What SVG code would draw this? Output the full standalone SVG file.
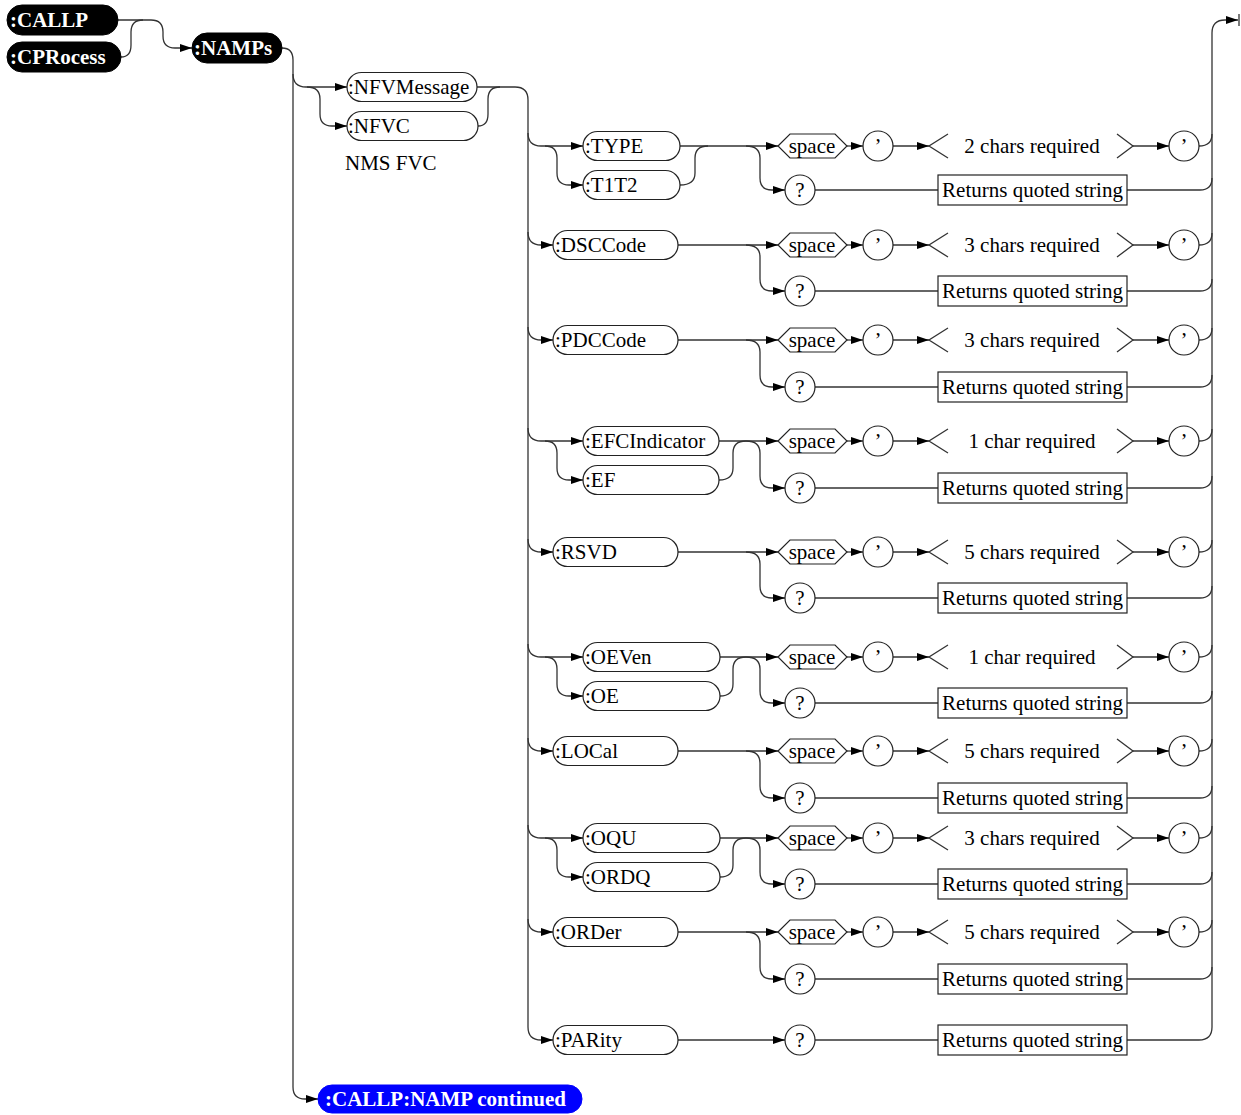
<svg xmlns="http://www.w3.org/2000/svg" width="1241" height="1115" viewBox="0 0 1241 1115">
<defs>
<marker id="ah" viewBox="0 0 12 8" refX="12" refY="4" markerWidth="12" markerHeight="8" markerUnits="userSpaceOnUse" orient="auto"><path d="M0,0 L12,4 L0,8 z" fill="#000"/></marker>
<style>
.ln{fill:none;stroke:#333;stroke-width:1.3}
.ar{marker-end:url(#ah)}
.pill{fill:#fff;stroke:#222;stroke-width:1.2}
.blk{fill:#000;stroke:#000}
.blu{fill:#0000ff;stroke:#0000ff}
.shp{fill:#fff;stroke:#222;stroke-width:1.2}
.t{font-family:"Liberation Serif","Times New Roman",serif;font-size:21px;fill:#000}
.b{font-weight:bold;fill:#fff}
.m{text-anchor:middle}
</style>
</defs>
<rect width="1241" height="1115" fill="#fff"/>

<g id="connectors">
<path class="ln ar" d="M118,20 H151 Q163,20 163,32 V36 Q163,48 175,48 H192"/>
<path class="ln" d="M121,57 Q131,57 131,45 V32 Q131,20 143,20"/>
<path class="ln ar" d="M282,48 Q293,48 293,60 V1087 Q293,1099 305,1099 H318"/>
<path class="ln ar" d="M293,74 Q293,87 306,87 H347"/>
<path class="ln ar" d="M307,87 Q320,87 320,99 V114 Q320,126 332,126 H347"/>
<path class="ln ar" d="M477,87 H515 Q528,87 528,100 V1027 Q528,1040 541,1040 H553"/>
<path class="ln" d="M478,126 Q488,126 488,114 V99 Q488,87 500,87"/>
<path class="ln ar" d="M1127,1040 H1199 Q1212,1040 1212,1027 V33 Q1212,20 1225,20 H1238"/>
<path class="ln" d="M1239,14 V26" stroke-width="1.5"/>

<!-- row 1 TYPE -->
<path class="ln ar" d="M528,133 Q528,146 541,146 H583"/>
<path class="ln ar" d="M545,146 Q557,146 557,158 V173 Q557,185 569,185 H583"/>
<path class="ln" d="M680,185 Q695,185 695,173 V158 Q695,146 708,146"/>
<path class="ln ar" d="M680,146 H778"/>
<path class="ln ar" d="M746,146 Q760,146 760,158 V178 Q760,190 772,190 H785"/>
<!-- row 2 DSCCode -->
<path class="ln ar" d="M528,232 Q528,245 541,245 H553"/>
<path class="ln ar" d="M678,245 H778"/>
<path class="ln ar" d="M746,245 Q760,245 760,257 V279 Q760,291 772,291 H785"/>
<!-- row 3 PDCCode -->
<path class="ln ar" d="M528,327 Q528,340 541,340 H553"/>
<path class="ln ar" d="M678,340 H778"/>
<path class="ln ar" d="M746,340 Q760,340 760,352 V375 Q760,387 772,387 H785"/>
<!-- row 4 EFCIndicator -->
<path class="ln ar" d="M528,428 Q528,441 541,441 H583"/>
<path class="ln ar" d="M545,441 Q557,441 557,453 V468 Q557,480 569,480 H583"/>
<path class="ln" d="M719,480 Q733,480 733,468 V453 Q733,441 746,441"/>
<path class="ln ar" d="M719,441 H778"/>
<path class="ln ar" d="M746,441 Q760,441 760,453 V476 Q760,488 772,488 H785"/>
<!-- row 5 RSVD -->
<path class="ln ar" d="M528,539 Q528,552 541,552 H553"/>
<path class="ln ar" d="M678,552 H778"/>
<path class="ln ar" d="M746,552 Q760,552 760,564 V586 Q760,598 772,598 H785"/>
<!-- row 6 OEVen -->
<path class="ln ar" d="M528,644 Q528,657 541,657 H583"/>
<path class="ln ar" d="M545,657 Q557,657 557,669 V684 Q557,696 569,696 H583"/>
<path class="ln" d="M720,696 Q733,696 733,684 V669 Q733,657 746,657"/>
<path class="ln ar" d="M720,657 H778"/>
<path class="ln ar" d="M746,657 Q760,657 760,669 V691 Q760,703 772,703 H785"/>
<!-- row 7 LOCal -->
<path class="ln ar" d="M528,738 Q528,751 541,751 H553"/>
<path class="ln ar" d="M678,751 H778"/>
<path class="ln ar" d="M746,751 Q760,751 760,763 V786 Q760,798 772,798 H785"/>
<!-- row 8 OQU -->
<path class="ln ar" d="M528,825 Q528,838 541,838 H583"/>
<path class="ln ar" d="M545,838 Q557,838 557,850 V865 Q557,877 569,877 H583"/>
<path class="ln" d="M720,877 Q733,877 733,865 V850 Q733,838 746,838"/>
<path class="ln ar" d="M720,838 H778"/>
<path class="ln ar" d="M746,838 Q760,838 760,850 V872 Q760,884 772,884 H785"/>
<!-- row 9 ORDer -->
<path class="ln ar" d="M528,919 Q528,932 541,932 H553"/>
<path class="ln ar" d="M678,932 H778"/>
<path class="ln ar" d="M746,932 Q760,932 760,944 V967 Q760,979 772,979 H785"/>
<!-- row 10 PARity -->
<path class="ln ar" d="M678,1040 H785"/>
<path class="ln" d="M815,1040 H938"/>

<!-- value chains per row -->
<g id="chains">
<path class="ln ar" d="M847,146 H863"/><path class="ln ar" d="M893,146 H929"/><path class="ln ar" d="M1133,146 H1169"/>
<path class="ln" d="M1199,146 C1207,146 1212,142 1212,134"/><path class="ln" d="M815,190 H938"/><path class="ln" d="M1127,190 H1200 C1208,190 1212,186 1212,178"/>
<path class="ln ar" d="M847,245 H863"/><path class="ln ar" d="M893,245 H929"/><path class="ln ar" d="M1133,245 H1169"/>
<path class="ln" d="M1199,245 C1207,245 1212,241 1212,233"/><path class="ln" d="M815,291 H938"/><path class="ln" d="M1127,291 H1200 C1208,291 1212,287 1212,279"/>
<path class="ln ar" d="M847,340 H863"/><path class="ln ar" d="M893,340 H929"/><path class="ln ar" d="M1133,340 H1169"/>
<path class="ln" d="M1199,340 C1207,340 1212,336 1212,328"/><path class="ln" d="M815,387 H938"/><path class="ln" d="M1127,387 H1200 C1208,387 1212,383 1212,375"/>
<path class="ln ar" d="M847,441 H863"/><path class="ln ar" d="M893,441 H929"/><path class="ln ar" d="M1133,441 H1169"/>
<path class="ln" d="M1199,441 C1207,441 1212,437 1212,429"/><path class="ln" d="M815,488 H938"/><path class="ln" d="M1127,488 H1200 C1208,488 1212,484 1212,476"/>
<path class="ln ar" d="M847,552 H863"/><path class="ln ar" d="M893,552 H929"/><path class="ln ar" d="M1133,552 H1169"/>
<path class="ln" d="M1199,552 C1207,552 1212,548 1212,540"/><path class="ln" d="M815,598 H938"/><path class="ln" d="M1127,598 H1200 C1208,598 1212,594 1212,586"/>
<path class="ln ar" d="M847,657 H863"/><path class="ln ar" d="M893,657 H929"/><path class="ln ar" d="M1133,657 H1169"/>
<path class="ln" d="M1199,657 C1207,657 1212,653 1212,645"/><path class="ln" d="M815,703 H938"/><path class="ln" d="M1127,703 H1200 C1208,703 1212,699 1212,691"/>
<path class="ln ar" d="M847,751 H863"/><path class="ln ar" d="M893,751 H929"/><path class="ln ar" d="M1133,751 H1169"/>
<path class="ln" d="M1199,751 C1207,751 1212,747 1212,739"/><path class="ln" d="M815,798 H938"/><path class="ln" d="M1127,798 H1200 C1208,798 1212,794 1212,786"/>
<path class="ln ar" d="M847,838 H863"/><path class="ln ar" d="M893,838 H929"/><path class="ln ar" d="M1133,838 H1169"/>
<path class="ln" d="M1199,838 C1207,838 1212,834 1212,826"/><path class="ln" d="M815,884 H938"/><path class="ln" d="M1127,884 H1200 C1208,884 1212,880 1212,872"/>
<path class="ln ar" d="M847,932 H863"/><path class="ln ar" d="M893,932 H929"/><path class="ln ar" d="M1133,932 H1169"/>
<path class="ln" d="M1199,932 C1207,932 1212,928 1212,920"/><path class="ln" d="M815,979 H938"/><path class="ln" d="M1127,979 H1200 C1208,979 1212,975 1212,967"/>
</g>
</g>

<g id="n-callp"><rect class="blk" x="7" y="5" width="111" height="30" rx="15"/><text class="t b" x="10" y="27">:CALLP</text></g>
<g id="n-cprocess"><rect class="blk" x="7" y="42" width="114" height="30" rx="15"/><text class="t b" x="10" y="64">:CPRocess</text></g>
<g id="n-namps"><rect class="blk" x="192" y="33" width="90" height="30" rx="15"/><text class="t b" x="194" y="55">:NAMPs</text></g>
<g id="n-continued"><rect class="blu" x="318" y="1085" width="264" height="28" rx="14"/><text class="t b" x="325" y="1106">:CALLP:NAMP continued</text></g>

<g id="n-nfvmessage"><rect class="pill" x="347" y="72.5" width="130" height="29" rx="14.5"/><text class="t" x="348" y="94">:NFVMessage</text></g>
<g id="n-nfvc"><rect class="pill" x="347" y="111.5" width="131" height="29" rx="14.5"/><text class="t" x="348" y="133">:NFVC</text></g>
<g id="n-nmsfvc"><text class="t" x="345" y="170">NMS FVC</text></g>

<g id="n-type"><rect class="pill" x="583" y="131.5" width="97" height="29" rx="14.5"/><text class="t" x="585" y="153">:TYPE</text></g>
<g id="n-t1t2"><rect class="pill" x="583" y="170.5" width="97" height="29" rx="14.5"/><text class="t" x="585" y="192">:T1T2</text></g>
<g id="n-dsccode"><rect class="pill" x="553" y="230.5" width="125" height="29" rx="14.5"/><text class="t" x="555" y="252">:DSCCode</text></g>
<g id="n-pdccode"><rect class="pill" x="553" y="325.5" width="125" height="29" rx="14.5"/><text class="t" x="555" y="347">:PDCCode</text></g>
<g id="n-efcindicator"><rect class="pill" x="583" y="426.5" width="136" height="29" rx="14.5"/><text class="t" x="585" y="448">:EFCIndicator</text></g>
<g id="n-ef"><rect class="pill" x="583" y="465.5" width="136" height="29" rx="14.5"/><text class="t" x="585" y="487">:EF</text></g>
<g id="n-rsvd"><rect class="pill" x="553" y="537.5" width="125" height="29" rx="14.5"/><text class="t" x="555" y="559">:RSVD</text></g>
<g id="n-oeven"><rect class="pill" x="583" y="642.5" width="137" height="29" rx="14.5"/><text class="t" x="585" y="664">:OEVen</text></g>
<g id="n-oe"><rect class="pill" x="583" y="681.5" width="137" height="29" rx="14.5"/><text class="t" x="585" y="703">:OE</text></g>
<g id="n-local"><rect class="pill" x="553" y="736.5" width="125" height="29" rx="14.5"/><text class="t" x="555" y="758">:LOCal</text></g>
<g id="n-oqu"><rect class="pill" x="583" y="823.5" width="137" height="29" rx="14.5"/><text class="t" x="585" y="845">:OQU</text></g>
<g id="n-ordq"><rect class="pill" x="583" y="862.5" width="137" height="29" rx="14.5"/><text class="t" x="585" y="884">:ORDQ</text></g>
<g id="n-order"><rect class="pill" x="553" y="917.5" width="125" height="29" rx="14.5"/><text class="t" x="555" y="939">:ORDer</text></g>
<g id="n-parity"><rect class="pill" x="553" y="1025.5" width="125" height="29" rx="14.5"/><text class="t" x="555" y="1047">:PARity</text></g>

<!-- value elements per row -->
<g id="n-row1-values">
<polygon class="shp" points="778,146 790,134 835,134 847,146 835,158 790,158"/><text class="t m" x="812" y="153">space</text>
<circle class="shp" cx="878" cy="146" r="15"/><text class="t m" x="878" y="153">’</text>
<path class="ln" d="M948,134 L929,146 L948,158 M1117,134 L1133,146 L1117,158"/><text class="t m" x="1032" y="153">2 chars required</text>
<circle class="shp" cx="1184" cy="146" r="15"/><text class="t m" x="1184" y="153">’</text>
<circle class="shp" cx="800" cy="190" r="15"/><text class="t m" x="800" y="197">?</text>
<rect class="shp" x="938" y="175" width="189" height="30"/><text class="t m" x="1032.5" y="197">Returns quoted string</text>
</g>
<g id="n-row2-values">
<polygon class="shp" points="778,245 790,233 835,233 847,245 835,257 790,257"/><text class="t m" x="812" y="252">space</text>
<circle class="shp" cx="878" cy="245" r="15"/><text class="t m" x="878" y="252">’</text>
<path class="ln" d="M948,233 L929,245 L948,257 M1117,233 L1133,245 L1117,257"/><text class="t m" x="1032" y="252">3 chars required</text>
<circle class="shp" cx="1184" cy="245" r="15"/><text class="t m" x="1184" y="252">’</text>
<circle class="shp" cx="800" cy="291" r="15"/><text class="t m" x="800" y="298">?</text>
<rect class="shp" x="938" y="276" width="189" height="30"/><text class="t m" x="1032.5" y="298">Returns quoted string</text>
</g>
<g id="n-row3-values">
<polygon class="shp" points="778,340 790,328 835,328 847,340 835,352 790,352"/><text class="t m" x="812" y="347">space</text>
<circle class="shp" cx="878" cy="340" r="15"/><text class="t m" x="878" y="347">’</text>
<path class="ln" d="M948,328 L929,340 L948,352 M1117,328 L1133,340 L1117,352"/><text class="t m" x="1032" y="347">3 chars required</text>
<circle class="shp" cx="1184" cy="340" r="15"/><text class="t m" x="1184" y="347">’</text>
<circle class="shp" cx="800" cy="387" r="15"/><text class="t m" x="800" y="394">?</text>
<rect class="shp" x="938" y="372" width="189" height="30"/><text class="t m" x="1032.5" y="394">Returns quoted string</text>
</g>
<g id="n-row4-values">
<polygon class="shp" points="778,441 790,429 835,429 847,441 835,453 790,453"/><text class="t m" x="812" y="448">space</text>
<circle class="shp" cx="878" cy="441" r="15"/><text class="t m" x="878" y="448">’</text>
<path class="ln" d="M948,429 L929,441 L948,453 M1117,429 L1133,441 L1117,453"/><text class="t m" x="1032" y="448">1 char required</text>
<circle class="shp" cx="1184" cy="441" r="15"/><text class="t m" x="1184" y="448">’</text>
<circle class="shp" cx="800" cy="488" r="15"/><text class="t m" x="800" y="495">?</text>
<rect class="shp" x="938" y="473" width="189" height="30"/><text class="t m" x="1032.5" y="495">Returns quoted string</text>
</g>
<g id="n-row5-values">
<polygon class="shp" points="778,552 790,540 835,540 847,552 835,564 790,564"/><text class="t m" x="812" y="559">space</text>
<circle class="shp" cx="878" cy="552" r="15"/><text class="t m" x="878" y="559">’</text>
<path class="ln" d="M948,540 L929,552 L948,564 M1117,540 L1133,552 L1117,564"/><text class="t m" x="1032" y="559">5 chars required</text>
<circle class="shp" cx="1184" cy="552" r="15"/><text class="t m" x="1184" y="559">’</text>
<circle class="shp" cx="800" cy="598" r="15"/><text class="t m" x="800" y="605">?</text>
<rect class="shp" x="938" y="583" width="189" height="30"/><text class="t m" x="1032.5" y="605">Returns quoted string</text>
</g>
<g id="n-row6-values">
<polygon class="shp" points="778,657 790,645 835,645 847,657 835,669 790,669"/><text class="t m" x="812" y="664">space</text>
<circle class="shp" cx="878" cy="657" r="15"/><text class="t m" x="878" y="664">’</text>
<path class="ln" d="M948,645 L929,657 L948,669 M1117,645 L1133,657 L1117,669"/><text class="t m" x="1032" y="664">1 char required</text>
<circle class="shp" cx="1184" cy="657" r="15"/><text class="t m" x="1184" y="664">’</text>
<circle class="shp" cx="800" cy="703" r="15"/><text class="t m" x="800" y="710">?</text>
<rect class="shp" x="938" y="688" width="189" height="30"/><text class="t m" x="1032.5" y="710">Returns quoted string</text>
</g>
<g id="n-row7-values">
<polygon class="shp" points="778,751 790,739 835,739 847,751 835,763 790,763"/><text class="t m" x="812" y="758">space</text>
<circle class="shp" cx="878" cy="751" r="15"/><text class="t m" x="878" y="758">’</text>
<path class="ln" d="M948,739 L929,751 L948,763 M1117,739 L1133,751 L1117,763"/><text class="t m" x="1032" y="758">5 chars required</text>
<circle class="shp" cx="1184" cy="751" r="15"/><text class="t m" x="1184" y="758">’</text>
<circle class="shp" cx="800" cy="798" r="15"/><text class="t m" x="800" y="805">?</text>
<rect class="shp" x="938" y="783" width="189" height="30"/><text class="t m" x="1032.5" y="805">Returns quoted string</text>
</g>
<g id="n-row8-values">
<polygon class="shp" points="778,838 790,826 835,826 847,838 835,850 790,850"/><text class="t m" x="812" y="845">space</text>
<circle class="shp" cx="878" cy="838" r="15"/><text class="t m" x="878" y="845">’</text>
<path class="ln" d="M948,826 L929,838 L948,850 M1117,826 L1133,838 L1117,850"/><text class="t m" x="1032" y="845">3 chars required</text>
<circle class="shp" cx="1184" cy="838" r="15"/><text class="t m" x="1184" y="845">’</text>
<circle class="shp" cx="800" cy="884" r="15"/><text class="t m" x="800" y="891">?</text>
<rect class="shp" x="938" y="869" width="189" height="30"/><text class="t m" x="1032.5" y="891">Returns quoted string</text>
</g>
<g id="n-row9-values">
<polygon class="shp" points="778,932 790,920 835,920 847,932 835,944 790,944"/><text class="t m" x="812" y="939">space</text>
<circle class="shp" cx="878" cy="932" r="15"/><text class="t m" x="878" y="939">’</text>
<path class="ln" d="M948,920 L929,932 L948,944 M1117,920 L1133,932 L1117,944"/><text class="t m" x="1032" y="939">5 chars required</text>
<circle class="shp" cx="1184" cy="932" r="15"/><text class="t m" x="1184" y="939">’</text>
<circle class="shp" cx="800" cy="979" r="15"/><text class="t m" x="800" y="986">?</text>
<rect class="shp" x="938" y="964" width="189" height="30"/><text class="t m" x="1032.5" y="986">Returns quoted string</text>
</g>
<g id="n-row10-values">
<circle class="shp" cx="800" cy="1040" r="15"/><text class="t m" x="800" y="1047">?</text>
<rect class="shp" x="938" y="1025" width="189" height="30"/><text class="t m" x="1032.5" y="1047">Returns quoted string</text>
</g>
</svg>
